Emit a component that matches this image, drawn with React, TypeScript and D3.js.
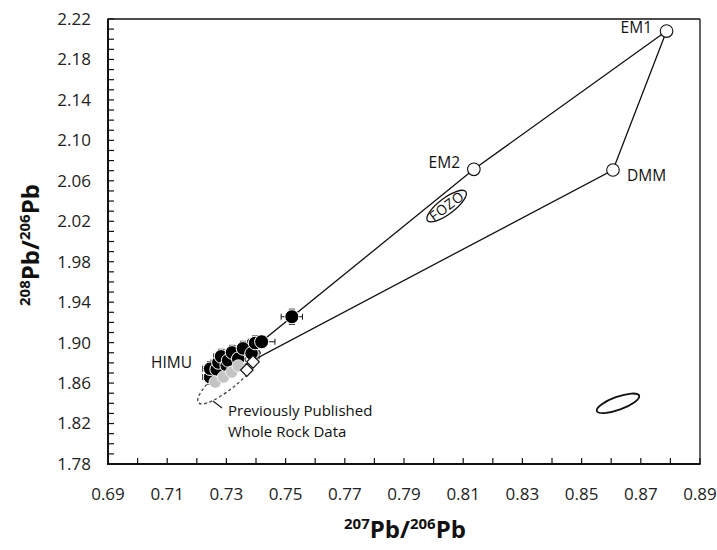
import React from 'react';
import * as d3 from 'd3';

// ---- data ----
const xTicks = [0.69, 0.71, 0.73, 0.75, 0.77, 0.79, 0.81, 0.83, 0.85, 0.87, 0.89];
const yTicks = [1.78, 1.82, 1.86, 1.90, 1.94, 1.98, 2.02, 2.06, 2.10, 2.14, 2.18, 2.22];

const endmemberNames = ['EM1', 'EM2', 'DMM', 'HIMU'];
const endmemberX = [0.8787, 0.8136, 0.8606, 0.725];
const endmemberY = [2.2081, 2.0714, 2.0707, 1.861];
const mixingOrder = ['EM1', 'EM2', 'HIMU', 'DMM', 'EM1'];

const sampleX = [0.7245, 0.7245, 0.7267, 0.7273, 0.7282, 0.7301, 0.7306, 0.7319, 0.7340, 0.7356, 0.7385, 0.7397, 0.7419, 0.7521];
const sampleY = [1.8659, 1.8742, 1.8735, 1.8804, 1.8864, 1.8774, 1.8824, 1.8903, 1.8841, 1.8943, 1.8894, 1.8996, 1.9009, 1.9256];
const sampleErrX = [0.0025, 0.0025, 0.0025, 0.0025, 0.0025, 0.0025, 0.0025, 0.0025, 0.0025, 0.0025, 0.0025, 0.0025, 0.0045, 0.0036];
const sampleErrY = [0.007, 0.007, 0.007, 0.007, 0.007, 0.007, 0.007, 0.007, 0.007, 0.007, 0.007, 0.007, 0.006, 0.0075];

const greyX = [0.7262, 0.7290, 0.7318, 0.7340];
const greyY = [1.8610, 1.8660, 1.8709, 1.8770];

const diamondX = [0.7369, 0.7390];
const diamondY = [1.8729, 1.8810];

const ellipseNames = ['FOZO', 'error', 'published'];
const ellipseX = [0.8044, 0.8623, 0.7309];
const ellipseY = [2.035, 1.840, 1.866];

// ---- layout ----
const W = 717, H = 550;
const L = 108, R = 700, T = 19, B = 464;
const FONT = "'Open Sans', sans-serif";

export default function App() {
  const x = d3.scaleLinear().domain([0.69, 0.89]).range([L, R]);
  const y = d3.scaleLinear().domain([1.78, 2.22]).range([B, T]);

  const minorX = d3.range(0, 21).map(i => 0.69 + i * 0.01);
  const minorY = d3.range(0, 45).map(i => 1.78 + i * 0.01);

  const em = (n: string) => {
    const i = endmemberNames.indexOf(n);
    return [x(endmemberX[i]), y(endmemberY[i])] as [number, number];
  };
  const line = d3.line();
  const mixPath = line(mixingOrder.map(em)) || '';

  const ellStyle = [
    { rx: 24, ry: 8, rot: -37, stroke: '#111', sw: 1.3, dash: undefined },
    { rx: 22.5, ry: 6.5, rot: -20, stroke: '#111', sw: 1.8, dash: undefined },
    { rx: 40, ry: 10.5, rot: -40, stroke: '#444', sw: 1.3, dash: '3,2.5' },
  ];

  const diamondPath = d3.symbol(d3.symbolDiamond2 || d3.symbolDiamond, 100)() || '';

  return (
    <div style={{ position: 'absolute', left: 0, top: 0 }}>
      <svg width={W} height={H} style={{ display: 'block', background: '#fff' }}>
        {/* minor ticks */}
        {minorX.map((v, i) => (
          <line key={'mx' + i} x1={x(v)} x2={x(v)} y1={B} y2={B - 6} stroke="#111" strokeWidth={1.2} />
        ))}
        {minorY.map((v, i) => (
          <line key={'my' + i} x1={L} x2={L + 6} y1={y(v)} y2={y(v)} stroke="#111" strokeWidth={1.2} />
        ))}
        {/* frame */}
        <line x1={L} x2={R} y1={T} y2={T} stroke="#111" strokeWidth={1.3} />
        <line x1={R} x2={R} y1={T} y2={B} stroke="#111" strokeWidth={1.3} />
        <line x1={L} x2={L} y1={T - 0.6} y2={B + 1} stroke="#111" strokeWidth={2} />
        <line x1={L - 1} x2={R + 0.6} y1={B} y2={B} stroke="#111" strokeWidth={2} />

        {/* tick labels */}
        {xTicks.map((v, i) => (
          <text key={'xt' + i} x={x(v)} y={B + 36} textAnchor="middle" fontFamily={FONT} fontSize={17} fill="#222">
            {v.toFixed(2)}
          </text>
        ))}
        {yTicks.map((v, i) => (
          <text key={'yt' + i} x={L - 17} y={y(v)} dy="0.35em" textAnchor="end" fontFamily={FONT} fontSize={17} fill="#222">
            {v.toFixed(2)}
          </text>
        ))}

        {/* axis titles */}
        <text x={405} y={538} textAnchor="middle" fontFamily={FONT} fontWeight="bold" fontSize={24} fill="#111">
          <tspan fontSize={15} dy={-9}>207</tspan>
          <tspan dy={9}>Pb/</tspan>
          <tspan fontSize={15} dy={-9}>206</tspan>
          <tspan dy={9}>Pb</tspan>
        </text>
        <text transform={`translate(39,${245}) rotate(-90)`} textAnchor="middle" fontFamily={FONT} fontWeight="bold" fontSize={24} fill="#111">
          <tspan fontSize={15} dy={-9}>208</tspan>
          <tspan dy={9}>Pb/</tspan>
          <tspan fontSize={15} dy={-9}>206</tspan>
          <tspan dy={9}>Pb</tspan>
        </text>

        {/* mixing polygon */}
        <path d={mixPath} fill="none" stroke="#111" strokeWidth={1.3} />

        {/* ellipses */}
        {ellipseNames.map((n, i) => {
          const s = ellStyle[i];
          const cx = x(ellipseX[i]), cy = y(ellipseY[i]);
          return (
            <g key={n} transform={`translate(${cx},${cy}) rotate(${s.rot})`}>
              <ellipse rx={s.rx} ry={s.ry} fill="none" stroke={s.stroke} strokeWidth={s.sw} strokeDasharray={s.dash} />
              {n === 'FOZO' && (
                <text textAnchor="middle" dy="0.36em" fontFamily={FONT} fontSize={14} letterSpacing={0.5} fill="#111">FOZO</text>
              )}
            </g>
          );
        })}
        {/* leader to published label */}
        <line x1={213} x2={222} y1={401} y2={408} stroke="#222" strokeWidth={1.2} />
        <text x={228} y={416} fontFamily={FONT} fontSize={15} fill="#111">Previously Published</text>
        <text x={228} y={437} fontFamily={FONT} fontSize={15} fill="#111">Whole Rock Data</text>

        {/* error bars */}
        {sampleX.map((v, i) => {
          const cx = x(v), cy = y(sampleY[i]);
          const x0 = x(v - sampleErrX[i]), x1 = x(v + sampleErrX[i]);
          const y0 = y(sampleY[i] - sampleErrY[i]), y1 = y(sampleY[i] + sampleErrY[i]);
          return (
            <g key={'e' + i} stroke="#111" strokeWidth={1}>
              <line x1={x0} x2={x1} y1={cy} y2={cy} />
              <line x1={x0} x2={x0} y1={cy - 3} y2={cy + 3} />
              <line x1={x1} x2={x1} y1={cy - 3} y2={cy + 3} />
              <line x1={cx} x2={cx} y1={y0} y2={y1} />
              <line x1={cx - 3} x2={cx + 3} y1={y0} y2={y0} />
              <line x1={cx - 3} x2={cx + 3} y1={y1} y2={y1} />
            </g>
          );
        })}
        {/* samples */}
        {sampleX.map((v, i) => (
          <circle key={'s' + i} cx={x(v)} cy={y(sampleY[i])} r={i >= 12 ? 7 : 6.8} fill="#000" stroke="#fff" strokeWidth={1} />
        ))}
        {greyX.map((v, i) => (
          <circle key={'g' + i} cx={x(v)} cy={y(greyY[i])} r={6.2} fill="#c4c4c4" stroke="#fff" strokeWidth={0.8} />
        ))}
        {diamondX.map((v, i) => (
          <path key={'d' + i} d={diamondPath} transform={`translate(${x(v)},${y(diamondY[i])})`} fill="#fff" stroke="#111" strokeWidth={1.2} />
        ))}

        {/* endmembers */}
        {endmemberNames.filter(n => n !== 'HIMU').map(n => {
          const [cx, cy] = em(n);
          return <circle key={n} cx={cx} cy={cy} r={6.3} fill="#fff" stroke="#111" strokeWidth={1.1} />;
        })}
        <text x={652} y={33} textAnchor="end" fontFamily={FONT} fontSize={15.5} fill="#111">EM1</text>
        <text x={460} y={168} textAnchor="end" fontFamily={FONT} fontSize={15.5} fill="#111">EM2</text>
        <text x={627} y={181} fontFamily={FONT} fontSize={15.5} fill="#111">DMM</text>
        <text x={151} y={368} fontFamily={FONT} fontSize={15.5} fill="#111">HIMU</text>
      </svg>
    </div>
  );
}
